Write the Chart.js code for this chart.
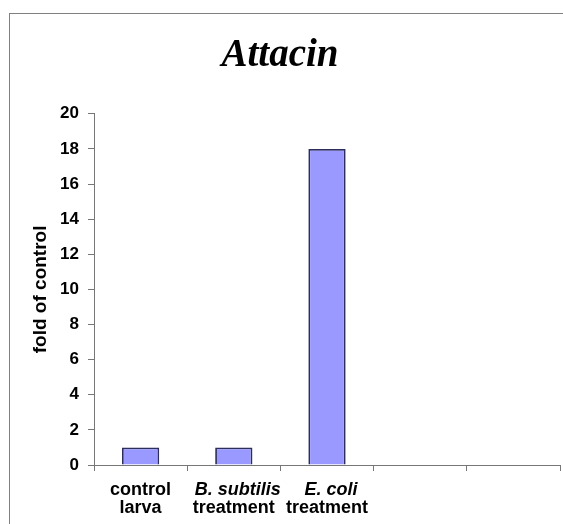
<!DOCTYPE html>
<html>
<head>
<meta charset="utf-8">
<script src="https://cdn.jsdelivr.net/npm/chart.js@4/dist/chart.umd.min.js"></script>
<style>
  html, body { margin: 0; padding: 0; background: #fff; }
  #wrap { position: relative; width: 563px; height: 524px; }
  #frame { position: absolute; left: 9px; top: 13px; right: 0; bottom: 0;
           border-top: 1px solid #808080; border-left: 1px solid #808080; }
  canvas { position: absolute; left: 0; top: 0; }
</style>
</head>
<body>
<div id="wrap">
  <div id="frame"></div>
  <canvas id="chart"></canvas>
</div>
<script>
// données
const categories = ['control larva', 'B. subtilis treatment', 'E. coli treatment', '', ''];
const labelTop = ['control', 'B. subtilis', 'E. coli', '', ''];
const labelBottom = ['larva', 'treatment', 'treatment', '', ''];
const labelItalic = [false, true, true, false, false];
const foldValues = [1, 1, 18, null, null];
const yTicks = [0, 2, 4, 6, 8, 10, 12, 14, 16, 18, 20];

const axisColor = '#777';

// étiquettes de l'axe X sur deux lignes (italique pour les bactéries)
const xLabelsPlugin = {
    id: 'xLabels',
    afterDraw(chart) {
        const ctx = chart.ctx;
        const x = chart.scales.x;
        ctx.save();
        ctx.fillStyle = '#000';
        ctx.textAlign = 'center';
        ctx.textBaseline = 'alphabetic';
        categories.forEach((_, i) => {
            const px = x.getPixelForValue(i);
            ctx.font = (labelItalic[i] ? 'italic ' : '') + 'bold 18px "Liberation Sans", Arial, sans-serif';
            ctx.fillText(labelTop[i], px + (labelItalic[i] ? 4 : 0), 495);
            ctx.font = 'bold 18px "Liberation Sans", Arial, sans-serif';
            ctx.fillText(labelBottom[i], px, 513);
        });
        ctx.restore();
    }
};

new Chart(document.getElementById('chart'), {
    type: 'bar',
    data: {
        labels: categories,
        datasets: [{
            data: foldValues,
            backgroundColor: '#9999ff',
            borderColor: '#2e2e5c',
            borderWidth: 1.8,
            barPercentage: 0.4,
            categoryPercentage: 1
        }]
    },
    options: {
        responsive: true,
        maintainAspectRatio: false,
        animation: false,
        layout: { padding: { left: 0, right: 3, top: 0, bottom: 0 } },
        plugins: {
            legend: { display: false },
            tooltip: { enabled: false },
            title: {
                display: true,
                text: 'Attacin',
                color: '#000',
                font: { family: '"Liberation Serif", "Times New Roman", serif', size: 39, weight: 'bold', style: 'italic' },
                padding: { top: 33, bottom: 34 }
            }
        },
        scales: {
            x: {
                ticks: { display: false },
                grid: { drawOnChartArea: false, drawTicks: true, tickLength: 6, color: axisColor, offset: true },
                border: { color: axisColor, width: 1 },
                afterFit(scale) { scale.height = 59; }
            },
            y: {
                min: 0,
                max: 20,
                afterBuildTicks(scale) { scale.ticks = yTicks.map(v => ({ value: v })); },
                ticks: {
                    color: '#000',
                    padding: 9,
                    font: { family: '"Liberation Sans", Arial, sans-serif', size: 17, weight: 'bold' }
                },
                grid: { drawOnChartArea: false, drawTicks: true, tickLength: 6, color: axisColor },
                border: { color: axisColor, width: 1 },
                title: {
                    display: true,
                    text: 'fold of control',
                    color: '#000',
                    font: { family: '"Liberation Sans", Arial, sans-serif', size: 19, weight: 'bold' },
                    padding: { top: 29, bottom: 0 }
                },
                afterFit(scale) { scale.width = 94; }
            }
        }
    },
    plugins: [xLabelsPlugin]
});
</script>
</body>
</html>
